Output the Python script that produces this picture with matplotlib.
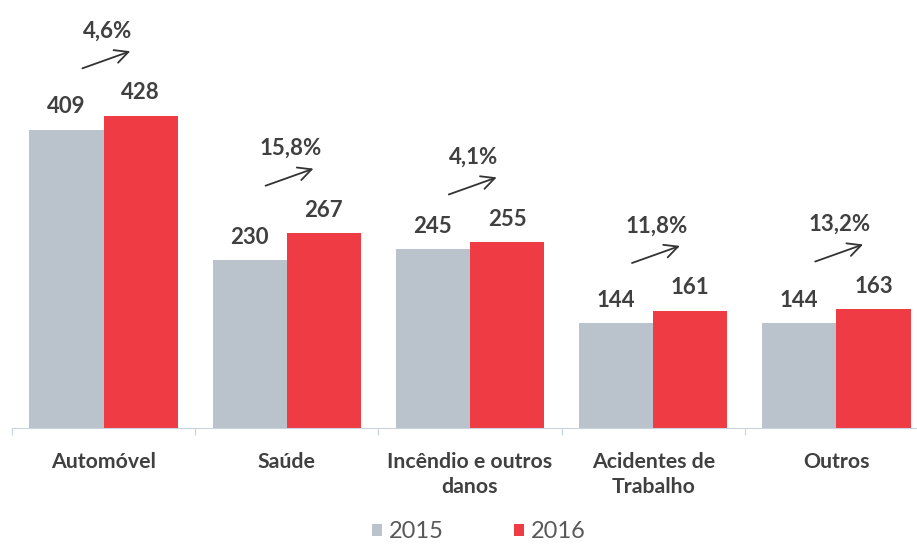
import numpy as np
import matplotlib.pyplot as plt

categories = ["Automóvel", "Saúde", "Incêndio e outros\ndanos", "Acidentes de\nTrabalho", "Outros"]
v2015 = [409, 230, 245, 144, 144]
v2016 = [428, 267, 255, 161, 163]
growth = ["4,6%", "15,8%", "4,1%", "11,8%", "13,2%"]

GRAY = "#BAC3CC"
RED = "#EE3B44"
TXT = "#404040"

plt.rcParams["font.family"] = ["Lato", "DejaVu Sans"]

fig = plt.figure(figsize=(9.17, 5.45), dpi=100)
ax = fig.add_axes([12 / 917, 117 / 545, 1 - 12 / 917, 428 / 545])

x = np.arange(len(categories))
w = 0.405
ax.bar(x - w / 2, v2015, w, color=GRAY, label="2015")
ax.bar(x + w / 2, v2016, w, color=RED, label="2016")

for xi, a, b, g in zip(x, v2015, v2016, growth):
    ax.annotate(str(a), (xi - w / 2, a), xytext=(0, 9), textcoords="offset points",
                ha="center", va="bottom", fontsize=16, fontweight="bold", color=TXT)
    ax.annotate(str(b), (xi + w / 2, b), xytext=(0, 9), textcoords="offset points",
                ha="center", va="bottom", fontsize=16, fontweight="bold", color=TXT)
    # growth arrow + percentage above each pair
    top = max(a, b) + 64
    ax.annotate("", xy=(xi + 0.16, top + 26), xytext=(xi - 0.13, top),
                arrowprops=dict(arrowstyle="->", color="#333333", lw=1.3, mutation_scale=24))
    ax.text(xi + 0.02, top + 38, g, ha="center", va="bottom",
            fontsize=16, fontweight="bold", color=TXT)

ax.set_xlim(-0.5, 4.44)
ax.set_ylim(0, 587)
for s in ["top", "right", "left"]:
    ax.spines[s].set_visible(False)
ax.spines["bottom"].set_color("#C9D3DB")
ax.set_yticks([])
ax.set_xticks(np.arange(-0.5, 4.5, 1.0))
ax.set_xticklabels([])
ax.tick_params(axis="x", length=5, color="#C9D3DB")
for xi, c in zip(x, categories):
    ax.text(xi, -33, c, ha="center", va="top", fontsize=15.3, fontweight="bold",
            color=TXT, linespacing=1.3)

leg = fig.legend(loc="center", bbox_to_anchor=(479 / 917, 13 / 545), ncol=2, frameon=False,
                 fontsize=17, handlelength=0.4, handleheight=0.4, columnspacing=3.0,
                 handletextpad=0.3)
for t in leg.get_texts():
    t.set_color("#595959")

fig.savefig("out.png", dpi=100)
